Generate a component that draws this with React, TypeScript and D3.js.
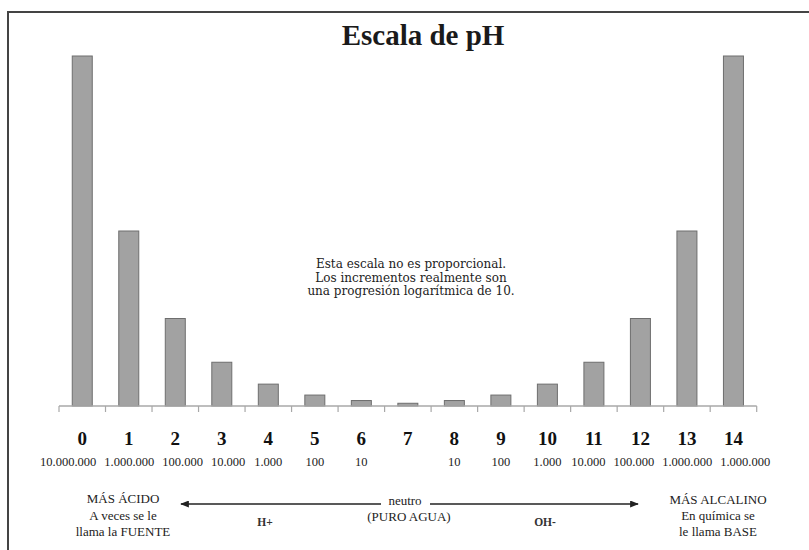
import React from "react";
import * as d3 from "d3";

const phLevels = [0, 1, 2, 3, 4, 5, 6, 7, 8, 9, 10, 11, 12, 13, 14];
const barHeights = [128, 64, 32, 16, 8, 4, 2, 1, 2, 4, 8, 16, 32, 64, 128];
const concentrationLabels = [
  "10.000.000", "1.000.000", "100.000", "10.000", "1.000", "100", "10", "",
  "10", "100", "1.000", "10.000", "100.000", "1.000.000", "1.000.000",
];
const title = "Escala de pH";
const noteLines = [
  "Esta escala no es proporcional.",
  "Los incrementos realmente son",
  "una progresión logarítmica de 10.",
];
const acidLines = ["MÁS ÁCIDO", "A veces se le", "llama la FUENTE"];
const baseLines = ["MÁS ALCALINO", "En química se", "le llama BASE"];

const W = 809;
const H = 550;
const x0 = 59;
const x1 = 756.7;
const baseY = 406;
const topY = 56;

const SUB_FS = 12.5;
function estWidth(s: string) {
  let w = 0;
  for (const c of s) w += c === "." ? 0.25 : 0.5;
  return w * SUB_FS;
}

export default function App() {
  const x = d3
    .scaleBand<number>()
    .domain(phLevels)
    .range([x0, x1])
    .paddingInner(0.57)
    .paddingOuter(0.285);
  const step = x.step();
  const y = d3.scaleLinear().domain([0, d3.max(barHeights) as number]).range([baseY, topY]);
  const center = (d: number) => (x(d) as number) + x.bandwidth() / 2;

  // label layout: start at band centres, relax overlaps within each half
  const pos = phLevels.map((d) => center(d));
  const widths = concentrationLabels.map(estWidth);
  const groups = [phLevels.filter((d) => d < 7), phLevels.filter((d) => d > 7)];
  const minGap = 8;
  for (let it = 0; it < 60; it++) {
    for (const g of groups) {
      for (let k = 0; k < g.length - 1; k++) {
        const a = g[k], b = g[k + 1];
        const gap = pos[b] - widths[b] / 2 - (pos[a] + widths[a] / 2);
        if (gap < minGap) {
          const s = (minGap - gap) / 2;
          pos[a] -= s;
          pos[b] += s;
        }
      }
    }
  }

  const tickXs = d3.range(phLevels.length + 1).map((i) => x0 + i * step);
  const arrowY = 504;

  return (
    <svg
      width={W}
      height={H}
      style={{ position: "absolute", left: 0, top: 0, background: "#fff" }}
      fontFamily="'Liberation Serif', 'Times New Roman', serif"
    >
      <defs>
        <marker id="ah" viewBox="0 0 10 8" refX="9" refY="4" markerWidth="9" markerHeight="7" markerUnits="userSpaceOnUse" orient="auto-start-reverse">
          <path d="M0,0 L10,4 L0,8 Z" fill="#222" />
        </marker>
      </defs>
      {/* frame */}
      <path d={`M8,${H} L8,12 L${W},12`} fill="none" stroke="#444" strokeWidth={2} />
      <text x={423} y={45} textAnchor="middle" fontSize={29} fontWeight="bold" fill="#1a1a1a">
        {title}
      </text>
      {/* bars */}
      {phLevels.map((d, i) => (
        <rect
          key={d}
          x={x(d)}
          y={y(barHeights[i])}
          width={x.bandwidth()}
          height={baseY - y(barHeights[i])}
          fill="#a2a2a2"
          stroke="#6e6e6e"
          strokeWidth={1}
        />
      ))}
      {/* axis */}
      <line x1={x0} x2={x1} y1={baseY} y2={baseY} stroke="#a8a8a8" strokeWidth={1.5} />
      {tickXs.map((tx, i) => (
        <line key={i} x1={tx} x2={tx} y1={baseY} y2={baseY + 6} stroke="#a8a8a8" strokeWidth={1.2} />
      ))}
      {/* pH numbers */}
      {phLevels.map((d) => (
        <text key={d} x={center(d)} y={445} textAnchor="middle" fontSize={19} fontWeight="bold" fill="#111">
          {d}
        </text>
      ))}
      {concentrationLabels.map((l, i) =>
        l ? (
          <text key={i} x={pos[i]} y={466} textAnchor="middle" fontSize={SUB_FS} fill="#222">
            {l}
          </text>
        ) : null
      )}
      {/* note */}
      <g fontFamily="'DejaVu Serif', serif" fontSize={12} fill="#222" textAnchor="middle">
        {noteLines.map((l, i) => (
          <text key={i} x={411} y={268 + i * 13.6}>
            {l}
          </text>
        ))}
      </g>
      {/* bottom */}
      <g fontSize={13} fill="#222" textAnchor="middle">
        {acidLines.map((l, i) => (
          <text key={i} x={123} y={503 + i * 16.6}>
            {l}
          </text>
        ))}
        {baseLines.map((l, i) => (
          <text key={i} x={718} y={504 + i * 16.2}>
            {l}
          </text>
        ))}
        <text x={405} y={505}>neutro</text>
        <text x={409} y={520.5}>(PURO AGUA)</text>
        <text x={265} y={525.5} fontSize={11.5} fontWeight="bold" fill="#333">H+</text>
        <text x={545} y={525.5} fontSize={11.5} fontWeight="bold" fill="#333">OH-</text>
      </g>
      <line x1={381} x2={181} y1={arrowY} y2={arrowY} stroke="#222" strokeWidth={1.3} markerEnd="url(#ah)" />
      <line x1={430} x2={638} y1={arrowY} y2={arrowY} stroke="#222" strokeWidth={1.3} markerEnd="url(#ah)" />
    </svg>
  );
}
